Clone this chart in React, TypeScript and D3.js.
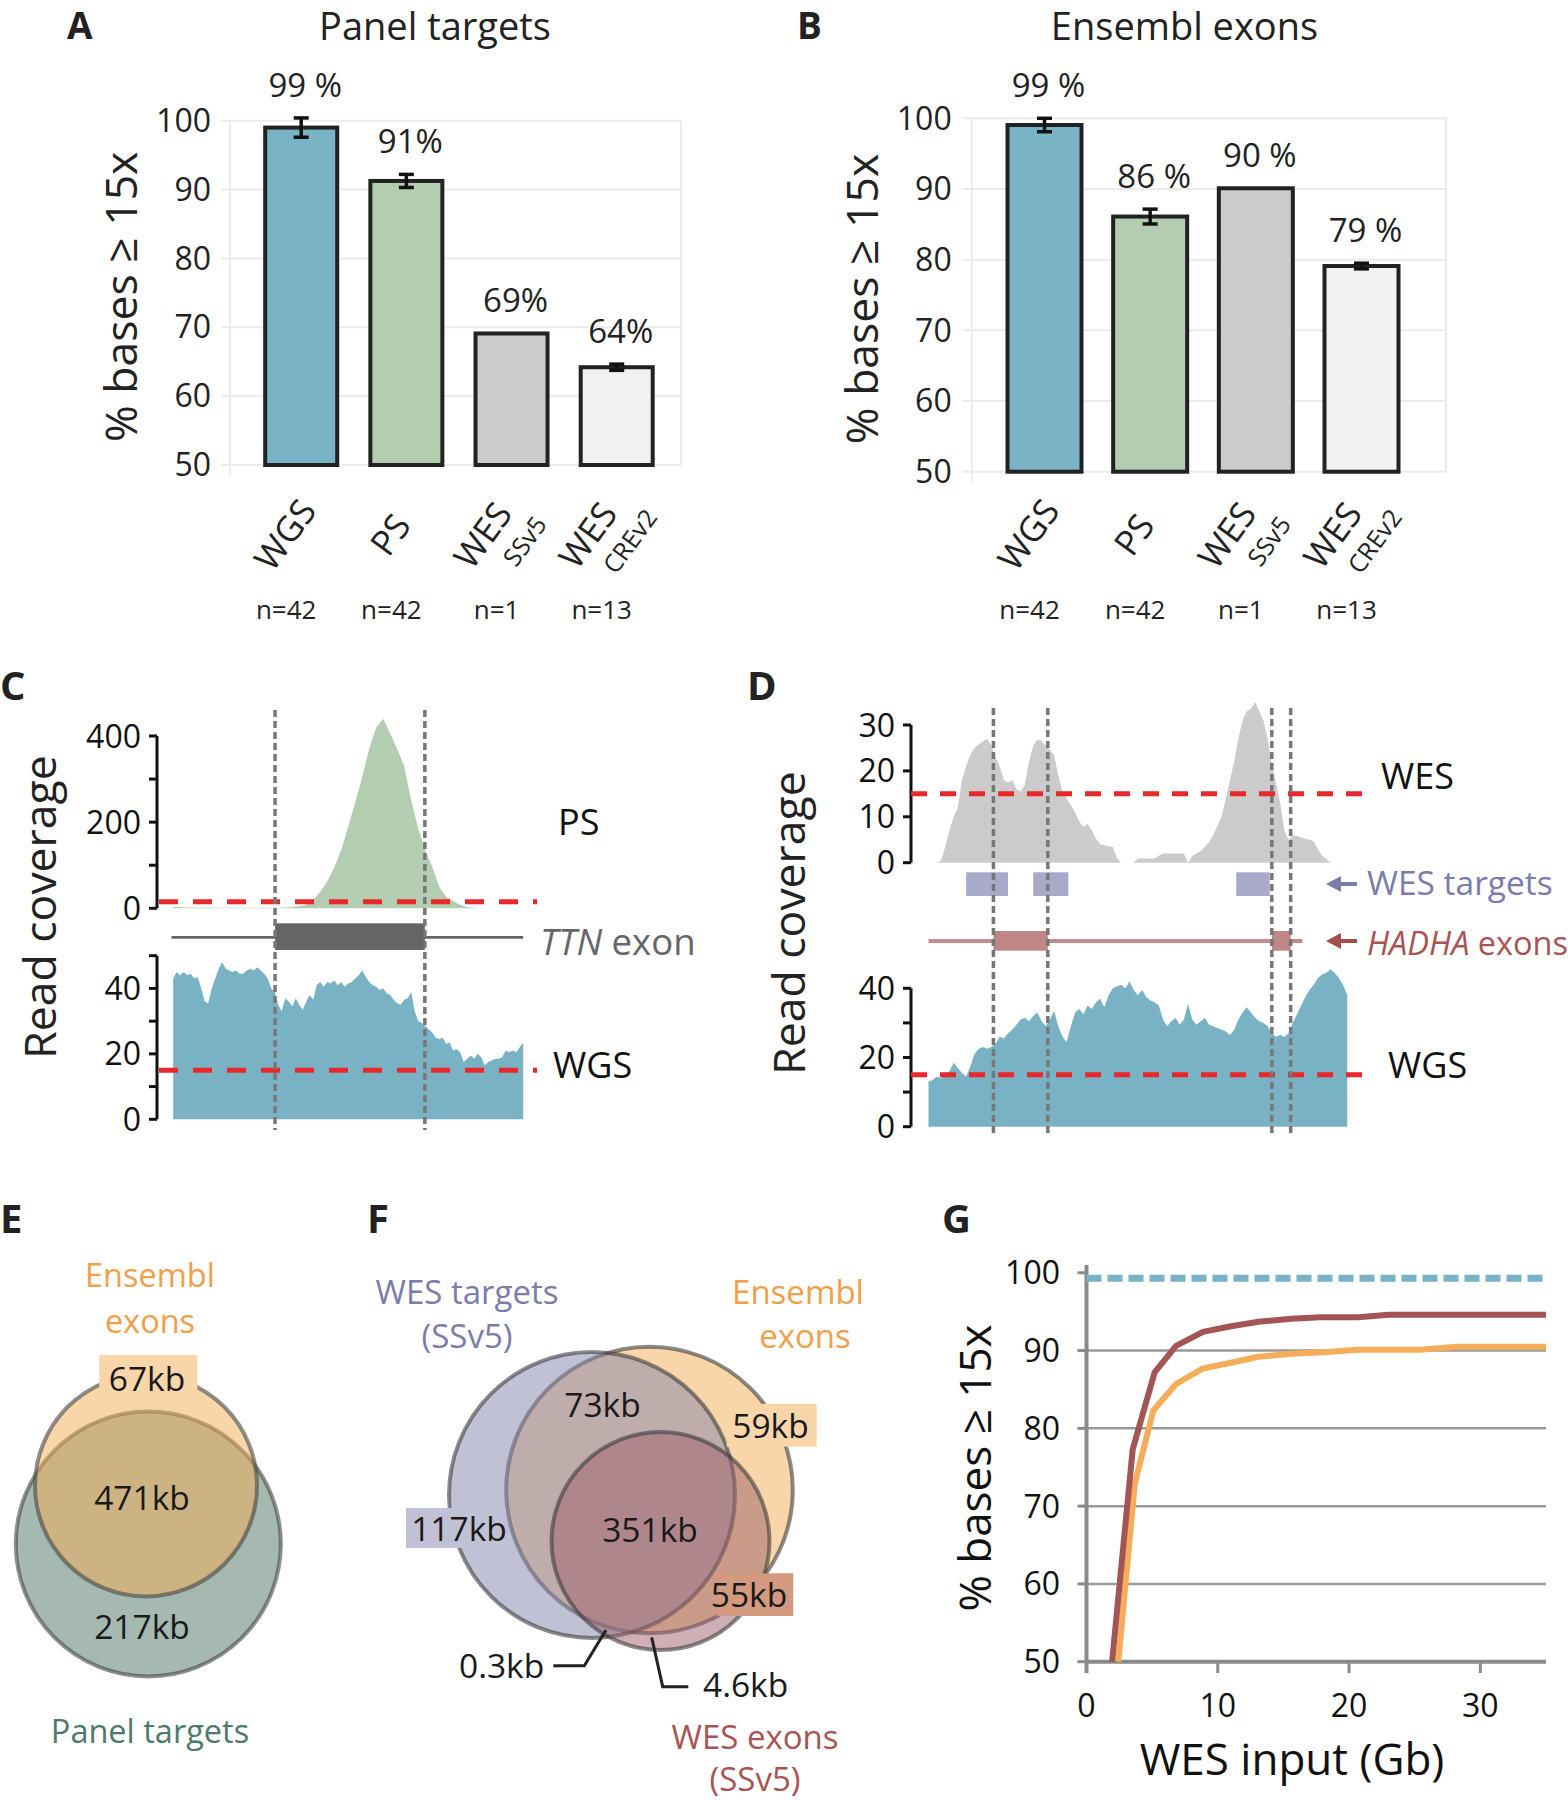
import React from "react";
import * as d3 from "d3";

const FONT = "'Open Sans', 'DejaVu Sans', sans-serif";

// ---- panels A / B : bar charts ----
const barKeys = ["WGS", "PS", "WES_SSv5", "WES_CREv2"];
const barMain = ["WGS", "PS", "WES", "WES"];
const barSub = ["", "", "SSv5", "CREv2"];
const barN = ["n=42", "n=42", "n=1", "n=13"];
const barColors = ["#79b3c5", "#b3cdb1", "#cccccc", "#f1f1f1"];
const pctTicks = [50, 60, 70, 80, 90, 100];

const panelPct = [99.0, 91.25, 69.1, 64.2];
const panelErr = [1.4, 0.95, 0, 0.45];
const panelLbl = ["99 %", "91%", "69%", "64%"];

const ensPct = [99.05, 86.1, 90.1, 79.1];
const ensErr = [0.95, 1.05, 0, 0.4];
const ensLbl = ["99 %", "86 %", "90 %", "79 %"];

// ---- panel C : TTN exon coverage (relative position 0-100) ----
const psCovC = [
  3, 3, 2, 2, 2, 2, 2, 1, 1, 1, 1, 1, 1, 1, 1, 1, 2, 3, 5, 8, 20, 38, 62, 95, 135, 190,
  245, 305, 370, 420, 440, 405, 370, 330, 250, 185, 135, 97, 50, 27, 17, 8, 3, 1, 0, 0,
  0, 0, 0, 0, 0,
];
const wgsCovC = [
  43, 45, 44, 45, 44, 44.5, 43, 43.5, 40, 36, 35.5, 40, 43, 46, 48, 46, 45.5, 45, 45.5,
  44.5, 44.5, 45.5, 46, 45.5, 46.5, 45.5, 44.5, 43, 40, 39, 35, 33, 37, 36, 34.5, 37, 35,
  33.5, 36, 38, 36.5, 41, 42, 40.5, 42, 41.5, 42.5, 41, 42, 40.5, 41.5, 42, 43, 44, 45.5,
  43.5, 42, 41, 40.5, 39.5, 40, 38.5, 38, 36.5, 35.5, 35, 36.5, 37, 39, 33, 30, 29.5, 28.5,
  27.5, 26.5, 25, 24.5, 25, 23, 23.5, 21, 21.5, 20.5, 17.5, 18.5, 19.5, 18.5, 20, 19, 16.5,
  17.5, 18, 18.5, 18.5, 19, 21, 20.5, 21, 20.5, 22, 23.5,
];
const ttnExon = [29.1, 71.9];
const psTicks = [0, 100, 200, 300, 400];
const psTickLabels = [0, 200, 400];
const wgsTicksC = [0, 10, 20, 30, 40, 50];
const wgsTickLabels = [0, 20, 40];

// ---- panel D : HADHA coverage ----
const wesCovD = [
  0, 0, 0, 0.5, 3.5, 7, 10, 12, 18, 21, 23.5, 25, 25.8, 26.4, 27, 25.5, 23, 21, 18, 17.5,
  18, 16, 15.5, 17, 22, 25.5, 26.8, 26.5, 25.5, 24.5, 23.5, 19, 15.5, 14, 12.5, 11, 9,
  7.8, 8.5, 7, 5.2, 4, 3.8, 3.6, 3.4, 1, 0, 0, 0, 0, 0.9, 0.9, 0.9, 0.9, 0.9, 1.5, 2, 2,
  2, 2, 2, 2, 0, 1.5, 2, 2.5, 3.5, 4.5, 6, 8, 10, 14, 18, 22, 27, 31, 33, 33.5, 35, 33,
  31, 27, 21.5, 17.3, 13, 7, 5, 6, 5.8, 5.5, 5.2, 5, 4.7, 3, 1.5, 0.8, 0, 0, 0, 0, 0,
];
const wgsCovD = [
  13, 13.5, 14.5, 14, 15, 16, 18.5, 17, 15.5, 14.5, 17.5, 21, 22.5, 23, 22.5, 23, 24, 26,
  25.5, 27, 28, 29.5, 31, 31.5, 30.5, 32, 33, 30.5, 29, 31, 33.5, 29, 26, 24.5, 29, 33,
  34, 32.5, 35, 34, 36, 37, 34.5, 38, 40, 40.5, 41, 40, 42, 39.5, 38, 39.5, 37.5, 36.5,
  36, 35, 31, 29, 30.5, 31.5, 29.5, 31, 35.5, 31, 29.5, 30.5, 31.5, 29.5, 29, 28.5, 28,
  27.5, 26.5, 28, 31, 33, 34.5, 33, 31.5, 30.5, 30, 29, 27, 26, 26.5, 26, 27, 30, 32.5,
  35, 37.5, 39.5, 41, 43, 44, 44.5, 45.5, 44.5, 43, 41, 38,
];
const wesTargets = [[9, 19], [25, 33.4], [73.5, 81.5]];
const hadhaExons = [[15.5, 28.5], [82, 86.5]];
const hadhaSpan = [0, 89.3];
const wesTicksD = [0, 10, 20, 30];
const wgsTicksD = [0, 10, 20, 30, 40];
const coverageCutoff = 15;

// ---- panels E / F : Venn labels ----
const vennELabels = ["67kb", "471kb", "217kb"];
const vennFLabels = ["117kb", "73kb", "59kb", "351kb", "55kb", "0.3kb", "4.6kb"];

// ---- panel G : saturation ----
const gbTicks = [0, 10, 20, 30];
const gPctTicks = [50, 60, 70, 80, 90, 100];
const panelExonGb = [1.95, 3.52, 5.19, 6.82, 8.87, 10.9, 13.1, 15.6, 17.8, 20.7, 23.0, 25.4, 28.2, 35];
const panelExonPct = [50, 77.3, 87.2, 90.6, 92.4, 93.1, 93.7, 94.1, 94.3, 94.3, 94.6, 94.6, 94.6, 94.6];
const ensExonGb = [2.42, 3.68, 5.09, 6.82, 8.87, 10.9, 13.1, 15.6, 18.1, 20.7, 25.4, 28.2, 35];
const ensExonPct = [50, 72.9, 82.3, 85.7, 87.7, 88.4, 89.2, 89.6, 89.8, 90.1, 90.1, 90.5, 90.5];
const wgsLevel = 99.3;

const TEAL = "#79b3c5";
const RED = "#e8282b";
const ORANGE_TXT = "#f0a04b";
const PURPLE_TXT = "#7c7caa";
const RED_TXT = "#a85454";

function BarPanel({ letter, letterX, title, titleX, left, right, yTop, yBot, c0, c1, barW, tickX, ylabX, vals, errs, lbls }: any) {
  const y = d3.scaleLinear().domain([50, 100]).range([yBot, yTop]);
  const x = d3.scalePoint<string>().domain(barKeys).range([c0, c1]);
  return (
    <g>
      <text x={letterX} y={39} fontSize={37} fontWeight={700} fill="#222">{letter}</text>
      <text x={titleX} y={40} fontSize={38} textAnchor="middle" fill="#222">{title}</text>
      {pctTicks.map((t) => (
        <g key={t}>
          <line x1={left - 9} x2={right} y1={y(t)} y2={y(t)} stroke="#ebebeb" strokeWidth={2} />
          <text x={tickX} y={y(t)} dy="0.35em" fontSize={32} textAnchor="end" fill="#222">{t}</text>
        </g>
      ))}
      <line x1={left} x2={left} y1={yTop} y2={yBot + 10} stroke="#ebebeb" strokeWidth={2} />
      <line x1={right} x2={right} y1={yTop} y2={yBot} stroke="#ebebeb" strokeWidth={2} />
      <text transform={`translate(${ylabX},${(yTop + yBot) / 2 + 4}) rotate(-90)`} textAnchor="middle" dominantBaseline="central" fontSize={44.5} fill="#222">
        % bases ≥ 15x
      </text>
      {barKeys.map((k, i) => {
        const cx = x(k)!;
        const v = vals[i];
        const e = errs[i];
        return (
          <g key={k}>
            <rect x={cx - barW / 2} y={y(v)} width={barW} height={y(50) - y(v)} fill={barColors[i]} stroke="#222" strokeWidth={4} />
            {e > 0 && (
              <g stroke="#111" strokeWidth={3.5}>
                <line x1={cx} x2={cx} y1={y(v - e)} y2={y(v + e)} />
                <line x1={cx - 7.5} x2={cx + 7.5} y1={y(v - e)} y2={y(v - e)} />
                <line x1={cx - 7.5} x2={cx + 7.5} y1={y(v + e)} y2={y(v + e)} />
              </g>
            )}
            <text x={cx + 4} y={y(v + e) - 21} fontSize={33} textAnchor="middle" fill="#222">{lbls[i]}</text>
            <g transform={`translate(${cx - 6},542) rotate(-54)`} fill="#222">
              {barSub[i] ? (
                <>
                  <text x={-8} y={-10} fontSize={35} textAnchor="middle">{barMain[i]}</text>
                  <text x={12} y={24} fontSize={25} textAnchor="middle">{barSub[i]}</text>
                </>
              ) : (
                <text fontSize={35} textAnchor="middle">{barMain[i]}</text>
              )}
            </g>
            <text x={cx - 15} y={619} fontSize={26} textAnchor="middle" fill="#222">{barN[i]}</text>
          </g>
        );
      })}
    </g>
  );
}

function YAxis({ x, y, ticks, labels, len = 8 }: any) {
  const [d0, d1] = y.domain();
  return (
    <g>
      <line x1={x} x2={x} y1={y(d0)} y2={y(d1)} stroke="#111" strokeWidth={3} />
      {ticks.map((t: number) => (
        <line key={t} x1={x - len} x2={x} y1={y(t)} y2={y(t)} stroke="#111" strokeWidth={3} />
      ))}
      {labels.map((t: number) => (
        <text key={t} x={x - 16} y={y(t)} dy="0.36em" fontSize={32} textAnchor="end" fill="#111">{t}</text>
      ))}
    </g>
  );
}

function PanelC() {
  const x = d3.scaleLinear().domain([0, 100]).range([173.2, 523.2]);
  const yPS = d3.scaleLinear().domain([0, 400]).range([908.3, 736]);
  const yW = d3.scaleLinear().domain([0, 50]).range([1119.3, 955.7]);
  const psArea = d3.area<number>().x((_, i) => x(i * 2)).y0(yPS(0)).y1((d) => yPS(d));
  const wArea = d3.area<number>().x((_, i) => x(i)).y0(yW(0)).y1((d) => yW(d));
  return (
    <g>
      <text x={0} y={700} fontSize={40} fontWeight={700} fill="#222">C</text>
      <text transform="translate(38,907) rotate(-90)" textAnchor="middle" dominantBaseline="central" fontSize={44.5} fill="#222">Read coverage</text>
      <path d={psArea(psCovC)!} fill="#b2cdb0" />
      <path d={wArea(wgsCovC)!} fill="#78b2c4" />
      <YAxis x={157} y={yPS} ticks={psTicks} labels={psTickLabels} />
      <YAxis x={157} y={yW} ticks={wgsTicksC} labels={wgsTickLabels} />
      <line x1={159} x2={537} y1={yPS(coverageCutoff)} y2={yPS(coverageCutoff)} stroke={RED} strokeWidth={5} strokeDasharray="19,15" />
      <line x1={159} x2={537} y1={yW(coverageCutoff)} y2={yW(coverageCutoff)} stroke={RED} strokeWidth={5} strokeDasharray="19,15" />
      <line x1={x(-0.5)} x2={x(100)} y1={937.3} y2={937.3} stroke="#666" strokeWidth={2.7} />
      <rect x={x(ttnExon[0])} y={923.3} width={x(ttnExon[1]) - x(ttnExon[0])} height={26.7} fill="#666" />
      {ttnExon.map((p) => (
        <line key={p} x1={x(p)} x2={x(p)} y1={710} y2={1130} stroke="#777" strokeWidth={3.5} strokeDasharray="7,4" />
      ))}
      <text x={558} y={835} fontSize={36} fill="#111">PS</text>
      <text x={553} y={1078} fontSize={36} fill="#111">WGS</text>
      <text x={540} y={955} fontSize={36.5} fill="#666">
        <tspan fontStyle="italic">TTN</tspan> exon
      </text>
    </g>
  );
}

function Arrow({ x, y, color }: any) {
  return (
    <g>
      <line x1={x + 31} x2={x + 10} y1={y} y2={y} stroke={color} strokeWidth={4} />
      <path d={`M${x},${y} L${x + 15},${y - 8} L${x + 15},${y + 8} Z`} fill={color} />
    </g>
  );
}

function PanelD() {
  const x = d3.scaleLinear().domain([0, 100]).range([928.5, 1347.2]);
  const yS = d3.scaleLinear().domain([0, 30]).range([862.7, 725]);
  const yW = d3.scaleLinear().domain([0, 40]).range([1126.7, 988.3]);
  const sArea = d3.area<number>().x((_, i) => x(i)).y0(yS(0)).y1((d) => yS(d));
  const wArea = d3.area<number>().x((_, i) => x(i)).y0(yW(0)).y1((d) => yW(d));
  const vlines = hadhaExons.flat();
  return (
    <g>
      <text x={747} y={700} fontSize={40} fontWeight={700} fill="#222">D</text>
      <text transform="translate(787,923) rotate(-90)" textAnchor="middle" dominantBaseline="central" fontSize={44.5} fill="#222">Read coverage</text>
      <path d={sArea(wesCovD)!} fill="#cbcbcb" />
      <path d={wArea(wgsCovD)!} fill="#78b2c4" />
      <YAxis x={911} y={yS} ticks={wesTicksD} labels={wesTicksD} />
      <YAxis x={911} y={yW} ticks={wgsTicksD} labels={wgsTickLabels} />
      {wesTargets.map(([a, b]) => (
        <rect key={a} x={x(a)} y={872.3} width={x(b) - x(a)} height={23.7} fill="#a9a9ca" />
      ))}
      <line x1={x(hadhaSpan[0])} x2={x(hadhaSpan[1])} y1={941} y2={941} stroke="#c48b8b" strokeWidth={4} />
      {hadhaExons.map(([a, b]) => (
        <rect key={a} x={x(a)} y={931} width={x(b) - x(a)} height={19.7} fill="#c08585" />
      ))}
      <line x1={911} x2={1366} y1={yS(coverageCutoff)} y2={yS(coverageCutoff)} stroke={RED} strokeWidth={5} strokeDasharray="16,13" />
      <line x1={911} x2={1366} y1={yW(coverageCutoff)} y2={yW(coverageCutoff)} stroke={RED} strokeWidth={5} strokeDasharray="16,13" />
      {vlines.map((p) => (
        <line key={p} x1={x(p)} x2={x(p)} y1={708} y2={1137} stroke="#777" strokeWidth={3.5} strokeDasharray="7,4" />
      ))}
      <text x={1381} y={789} fontSize={36} fill="#111">WES</text>
      <text x={1388} y={1078} fontSize={36} fill="#111">WGS</text>
      <Arrow x={1326} y={884} color={PURPLE_TXT} />
      <text x={1367} y={895} fontSize={33.5} fill={PURPLE_TXT}>WES targets</text>
      <Arrow x={1326} y={941} color="#a34d4d" />
      <text x={1367} y={955} fontSize={32.5} fill={RED_TXT}>
        <tspan fontStyle="italic">HADHA</tspan> exons
      </text>
    </g>
  );
}

function PanelE() {
  const stroke = "rgba(70,70,70,0.6)";
  return (
    <g>
      <text x={0} y={1233} fontSize={40} fontWeight={700} fill="#222">E</text>
      <circle cx={148.3} cy={1544} r={132.5} fill="#a6b9b0" stroke={stroke} strokeWidth={4} />
      <circle cx={146} cy={1485.5} r={111} fill="rgba(243,173,83,0.5)" stroke={stroke} strokeWidth={4} />
      <rect x={99.3} y={1355} width={98} height={38} fill="#f9d6a9" />
      <text x={150} y={1287} fontSize={32.5} textAnchor="middle" fill={ORANGE_TXT}>Ensembl</text>
      <text x={150} y={1333} fontSize={32.5} textAnchor="middle" fill={ORANGE_TXT}>exons</text>
      <text x={147} y={1391} fontSize={33.5} textAnchor="middle" fill="#1a1a1a">{vennELabels[0]}</text>
      <text x={142} y={1510} fontSize={33.5} textAnchor="middle" fill="#1a1a1a">{vennELabels[1]}</text>
      <text x={142} y={1639} fontSize={33.5} textAnchor="middle" fill="#1a1a1a">{vennELabels[2]}</text>
      <text x={150} y={1743} fontSize={32.5} textAnchor="middle" fill="#4d7a6a">Panel targets</text>
    </g>
  );
}

function PanelF() {
  const stroke = "rgba(60,60,60,0.6)";
  const lead = { fill: "none", stroke: "#222", strokeWidth: 3 };
  return (
    <g>
      <text x={367} y={1233} fontSize={40} fontWeight={700} fill="#222">F</text>
      <circle cx={649.5} cy={1490} r={143.3} fill="rgba(243,173,83,0.5)" stroke={stroke} strokeWidth={4} />
      <circle cx={592} cy={1495} r={143} fill="rgba(131,131,173,0.5)" stroke={stroke} strokeWidth={4} />
      <circle cx={660.5} cy={1541} r={109} fill="rgba(158,96,108,0.5)" stroke={stroke} strokeWidth={4} />
      <text x={467} y={1304} fontSize={33} textAnchor="middle" fill={PURPLE_TXT}>WES targets</text>
      <text x={467} y={1348} fontSize={33} textAnchor="middle" fill={PURPLE_TXT}>(SSv5)</text>
      <text x={798} y={1304} fontSize={33} textAnchor="middle" fill={ORANGE_TXT}>Ensembl</text>
      <text x={805} y={1348} fontSize={33} textAnchor="middle" fill={ORANGE_TXT}>exons</text>
      <rect x={406} y={1508} width={100} height={40} fill="#c1c1d6" />
      <rect x={726.7} y={1404} width={90} height={42.7} fill="#f9d6a9" />
      <rect x={716.7} y={1573.3} width={76.6} height={42.7} fill="#d39a80" />
      <text x={459} y={1541} fontSize={33.5} textAnchor="middle" fill="#1a1a1a">{vennFLabels[0]}</text>
      <text x={602.5} y={1416.7} fontSize={33.5} textAnchor="middle" fill="#1a1a1a">{vennFLabels[1]}</text>
      <text x={770.5} y={1438} fontSize={33.5} textAnchor="middle" fill="#1a1a1a">{vennFLabels[2]}</text>
      <text x={650} y={1541.7} fontSize={33.5} textAnchor="middle" fill="#1a1a1a">{vennFLabels[3]}</text>
      <text x={749} y={1606.7} fontSize={33.5} textAnchor="middle" fill="#1a1a1a">{vennFLabels[4]}</text>
      <text x={459} y={1678.3} fontSize={33.5} fill="#1a1a1a">{vennFLabels[5]}</text>
      <text x={703} y={1697} fontSize={33.5} fill="#1a1a1a">{vennFLabels[6]}</text>
      <polyline points="553.3,1665.7 584.3,1665.7 606,1630" {...lead} />
      <polyline points="651.7,1637.3 662.7,1686.7 688.3,1686.7" {...lead} />
      <text x={755} y={1749} fontSize={33} textAnchor="middle" fill={RED_TXT}>WES exons</text>
      <text x={755} y={1791} fontSize={33} textAnchor="middle" fill={RED_TXT}>(SSv5)</text>
    </g>
  );
}

function PanelG() {
  const x = d3.scaleLinear().domain([0, 35]).range([1086.5, 1546]);
  const y = d3.scaleLinear().domain([50, 100]).range([1661.7, 1272.8]);
  const line = d3.line<number>();
  const red = line(panelExonGb.map((g, i) => [x(g), y(panelExonPct[i])]) as any);
  const orange = line(ensExonGb.map((g, i) => [x(g), y(ensExonPct[i])]) as any);
  return (
    <g>
      <text x={942} y={1233} fontSize={40} fontWeight={700} fill="#222">G</text>
      {gPctTicks.slice(1, -1).map((t) => (
        <line key={t} x1={x(0)} x2={x(35)} y1={y(t)} y2={y(t)} stroke="#9a9a9a" strokeWidth={2.5} />
      ))}
      <line x1={x(0)} x2={x(35)} y1={y(50)} y2={y(50)} stroke="#8a8a8a" strokeWidth={4} />
      <line x1={x(0)} x2={x(0)} y1={1265} y2={1673} stroke="#8a8a8a" strokeWidth={4} />
      {gPctTicks.map((t) => (
        <g key={t}>
          <line x1={x(0) - 9} x2={x(0)} y1={y(t)} y2={y(t)} stroke="#8a8a8a" strokeWidth={3} />
          <text x={1060} y={y(t)} dy="0.36em" fontSize={32} textAnchor="end" fill="#111">{t}</text>
        </g>
      ))}
      {gbTicks.map((t) => (
        <g key={t}>
          <line x1={x(t)} x2={x(t)} y1={y(50)} y2={1673} stroke="#8a8a8a" strokeWidth={3} />
          <text x={x(t)} y={1717} fontSize={32} textAnchor="middle" fill="#111">{t}</text>
        </g>
      ))}
      <line x1={x(0)} x2={x(35)} y1={y(wgsLevel)} y2={y(wgsLevel)} stroke={TEAL} strokeWidth={7} strokeDasharray="15,6" />
      <path d={orange!} fill="none" stroke="#f5ad5a" strokeWidth={6} strokeLinejoin="round" />
      <path d={red!} fill="none" stroke="#a35454" strokeWidth={6} strokeLinejoin="round" />
      <text transform="translate(974,1468) rotate(-90)" textAnchor="middle" dominantBaseline="central" fontSize={44} fill="#111">% bases ≥ 15x</text>
      <text x={1292} y={1775} fontSize={44} textAnchor="middle" fill="#111">WES input (Gb)</text>
    </g>
  );
}

export default function App() {
  return (
    <svg width={1568} height={1800} style={{ position: "absolute", left: 0, top: 0, background: "#fff" }} fontFamily={FONT}>
      <rect width={1568} height={1800} fill="#fff" />
      <BarPanel letter="A" letterX={67} title="Panel targets" titleX={435} left={230} right={681} yTop={120.7} yBot={465}
        c0={301.2} c1={616.7} barW={72} tickX={211} ylabX={119} vals={panelPct} errs={panelErr} lbls={panelLbl} />
      <BarPanel letter="B" letterX={797} title="Ensembl exons" titleX={1184.5} left={971.7} right={1446} yTop={118.3} yBot={471.7}
        c0={1044.5} c1={1361.5} barW={74} tickX={951.7} ylabX={860} vals={ensPct} errs={ensErr} lbls={ensLbl} />
      <PanelC />
      <PanelD />
      <PanelE />
      <PanelF />
      <PanelG />
    </svg>
  );
}
